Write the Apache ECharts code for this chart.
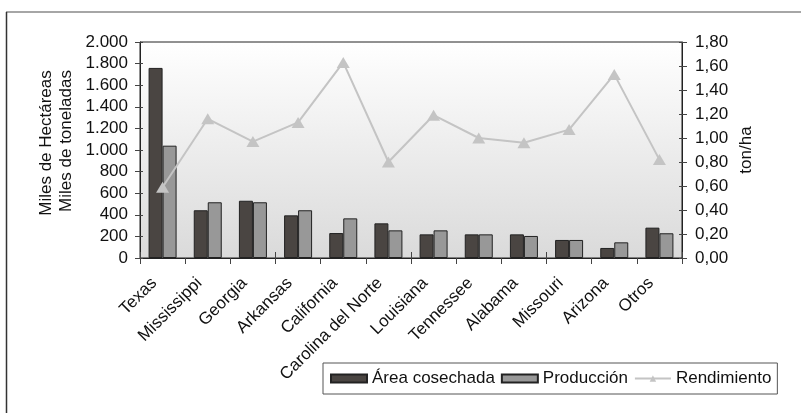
<!DOCTYPE html>
<html><head><meta charset="utf-8">
<script src="https://cdn.jsdelivr.net/npm/echarts@6/dist/echarts.min.js"></script>
<style>html,body{margin:0;padding:0;background:#fff}#c{width:801px;height:413px}</style>
</head><body><div id="c"></div>
<script>
const categories = ['Texas','Mississippi','Georgia','Arkansas','California','Carolina del Norte','Louisiana','Tennessee','Alabama','Missouri','Arizona','Otros'];
const area = [1760, 442, 530, 395, 231, 321, 219, 219, 219, 167, 93, 281];
const produccion = [1040, 516, 516, 442, 367, 256, 256, 219, 204, 167, 145, 229];
const rendimiento = [0.59, 1.16, 0.97, 1.13, 1.63, 0.80, 1.19, 1.00, 0.96, 1.07, 1.53, 0.82];
const leftTitle = ['Miles de Hectáreas', 'Miles de toneladas'];
const rightTitle = 'ton/ha';

const font = 'Liberation Sans, Arial, sans-serif';
const chart = echarts.init(document.getElementById('c'));
const nameStyle = (t, fs) => ({text: t, fontSize: fs, fontFamily: font, fill: '#111', textAlign: 'center', textVerticalAlign: 'middle'});
chart.setOption({
  animation: false,
  textStyle: {fontFamily: font},
  graphic: [
    {type:'line', shape:{x1:6,y1:12,x2:801,y2:12}, style:{stroke:'#888',lineWidth:1.5}},
    {type:'line', shape:{x1:6.5,y1:12,x2:6.5,y2:413}, style:{stroke:'#333',lineWidth:1.5}},
    {type:'text', x:46, y:143, rotation:Math.PI/2, style: nameStyle(leftTitle[0], 17)},
    {type:'text', x:66.5, y:141, rotation:Math.PI/2, style: nameStyle(leftTitle[1], 17)},
    {type:'text', x:746, y:150, rotation:Math.PI/2, style: nameStyle(rightTitle, 17)}
  ],
  grid: {left:140, right:119, top:42, bottom:155, show:true, borderWidth:1, borderColor:'#222',
    backgroundColor: new echarts.graphic.LinearGradient(0,0,0,1,[{offset:0,color:'#ffffff'},{offset:1,color:'#dadada'}])},
  legend: {
    left: 323, top: 363, width: 457, height: 32, itemGap: 6,
    padding: [7, 6, 7, 7],
    borderColor: '#555', borderWidth: 1,
    itemWidth: 36, itemHeight: 8,
    textStyle: {fontFamily: font, fontSize: 17, color:'#111'},
    data: [
      {name:'Área cosechada', icon:'rect'},
      {name:'Producción', icon:'rect'},
      {name:'Rendimiento', itemStyle:{color:'#c4c4c4'}}
    ]
  },
  xAxis: [{
    type:'category', data: categories,
    axisLine:{lineStyle:{color:'#222'}},
    axisTick:{show:true, length:6, lineStyle:{color:'#444'}},
    axisLabel:{rotate:45, fontSize:17, color:'#111', fontFamily:font, margin:14, padding:[0,12,0,0]}
  },{
    type:'category', data: categories, position:'bottom',
    axisLine:{show:false},
    axisTick:{show:true, inside:true, length:6, lineStyle:{color:'#444'}},
    axisLabel:{show:false}
  }],
  yAxis: [
    {type:'value', min:0, max:2000, interval:200,
     axisLine:{show:true, lineStyle:{color:'#222'}},
     axisTick:{show:true, length:5, lineStyle:{color:'#444'}},
     splitLine:{show:false},
     axisLabel:{fontSize:17, color:'#111', fontFamily:font, margin:12,
       formatter: v => v.toLocaleString('de-DE')}},
    {type:'value', min:0, max:1.8, interval:0.2,
     axisLine:{show:true, lineStyle:{color:'#222'}},
     axisTick:{show:true, length:5, lineStyle:{color:'#444'}},
     splitLine:{show:false},
     axisLabel:{fontSize:17, color:'#111', fontFamily:font, margin:13,
       formatter: v => v.toFixed(2).replace('.', ',')}},
    {type:'value', min:0, max:2000, interval:200, position:'left',
     axisLine:{show:false}, axisTick:{show:true, inside:true, length:3, lineStyle:{color:'#444'}},
     axisLabel:{show:false}, splitLine:{show:false}},
    {type:'value', min:0, max:1.8, interval:0.2, position:'right',
     axisLine:{show:false}, axisTick:{show:true, inside:true, length:3, lineStyle:{color:'#444'}},
     axisLabel:{show:false}, splitLine:{show:false}}
  ],
  series: [
    {name:'Área cosechada', type:'bar', data: area, barWidth:14, barGap:'0%',
     itemStyle:{color:'#4a4542', borderColor:'#222', borderWidth:1}},
    {name:'Producción', type:'bar', data: produccion, barWidth:14,
     itemStyle:{color:'#989898', borderColor:'#222', borderWidth:1}},
    {name:'Rendimiento', type:'line', yAxisIndex:1, data: rendimiento,
     symbol:'triangle', symbolSize:[13,11],
     lineStyle:{color:'#c4c4c4', width:2},
     itemStyle:{color:'#c4c4c4'}}
  ]
});
</script></body></html>
